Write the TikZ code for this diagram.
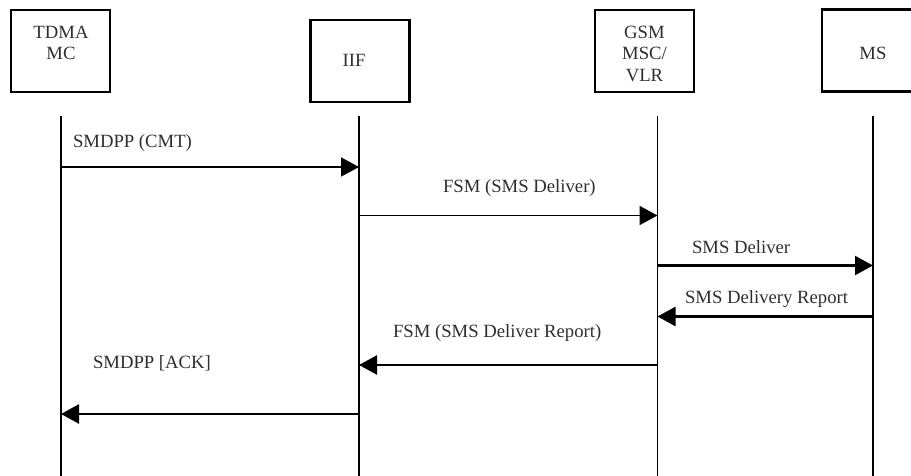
\documentclass[tikz,border=0pt]{standalone}
\usepackage{fontspec}
\setmainfont{Liberation Serif}
\usetikzlibrary{arrows.meta}
\tikzset{
  entity/.style={draw, line width=2.7pt, minimum width=99pt, minimum height=82pt,
    inner sep=0pt, outer sep=0pt},
  txt/.style={text=black!82, font=\fontsize{18.7}{21.5}\selectfont, inner sep=0pt, outer sep=0pt},
  lbl/.style={txt, anchor=base west},
  ename/.style={txt, align=center},
  lifeline/.style={line width=#1},
  msg/.style={line width=#1, -{Triangle[length=18pt,width=19pt]}},
}
\begin{document}
\begin{tikzpicture}[x=1pt,y=-1pt]
  \useasboundingbox (0,0) rectangle (911,476);
  \clip (0,0) rectangle (911,476);

  % entity boxes
  \node[entity] (tdma) at (60.5,51) {};
  \node[entity] (iif)  at (360,61)  {};
  \node[entity] (gsm)  at (644.5,51) {};
  \node[entity] (ms)   at (871.5,50.5) {};

  % entity names
  \node[ename, anchor=north] (tdmaname) at (61,25.8) {TDMA\\MC};
  \node[ename, anchor=base]  (iifname)  at (354,67) {IIF};
  \node[ename, anchor=north] (gsmname)  at (644.5,25.8) {GSM\\MSC/\\VLR};
  \node[ename, anchor=base]  (msname)   at (873,60) {MS};

  % lifelines
  \coordinate (t1) at (61,116);    \coordinate (b1) at (61,476);
  \coordinate (t2) at (359,116);   \coordinate (b2) at (359,476);
  \coordinate (t3) at (657.5,116); \coordinate (b3) at (657.5,476);
  \coordinate (t4) at (873,116);   \coordinate (b4) at (873,476);
  \draw[lifeline=2.8pt] (t1) -- (b1);
  \draw[lifeline=1.8pt] (t2) -- (b2);
  \draw[lifeline=1.8pt] (t3) -- (b3);
  \draw[lifeline=2.2pt] (t4) -- (b4);

  % messages
  \draw[msg=1.7pt] (t1 |- 0,167)   -- (t2 |- 0,167);
  \draw[msg=1.8pt] (t2 |- 0,215.5) -- (t3 |- 0,215.5);
  \draw[msg=2.1pt] (t3 |- 0,265.5) -- (t4 |- 0,265.5);
  \draw[msg=2.5pt] (t4 |- 0,316.5) -- (t3 |- 0,316.5);
  \draw[msg=2.5pt] (t3 |- 0,365)   -- (t2 |- 0,365);
  \draw[msg=2.5pt] (t2 |- 0,414)   -- (t1 |- 0,414);

  % message labels
  \node[lbl] (l1) at (73,148)  {SMDPP (CMT)};
  \node[lbl] (l2) at (443,193) {FSM (SMS Deliver)};
  \node[lbl] (l3) at (692,253) {SMS Deliver};
  \node[lbl] (l4) at (685,303) {SMS Delivery Report};
  \node[lbl] (l5) at (393,337) {FSM (SMS Deliver Report)};
  \node[lbl] (l6) at (93,368)  {SMDPP [ACK]};
\end{tikzpicture}
\end{document}
